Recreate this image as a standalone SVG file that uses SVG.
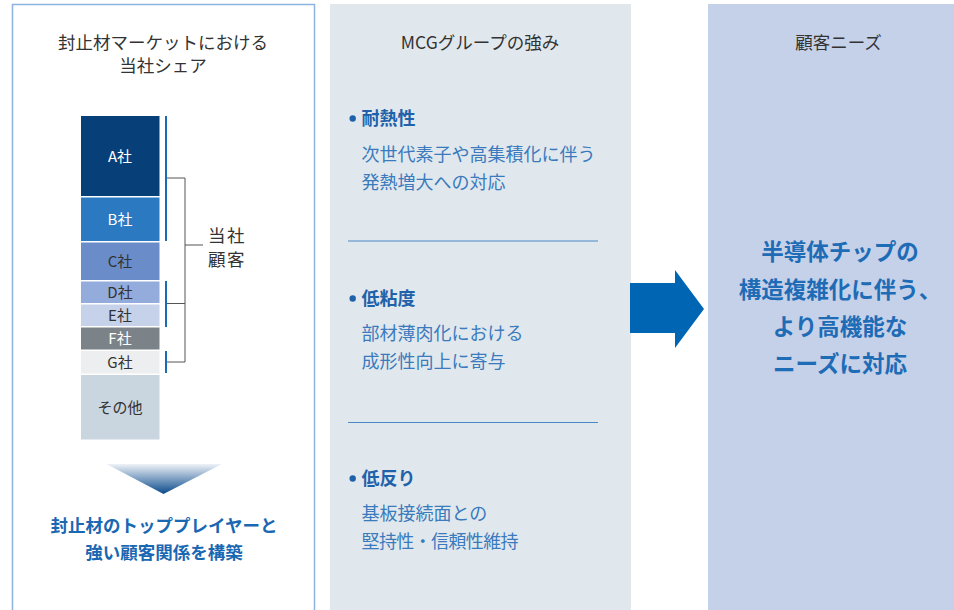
<svg xmlns="http://www.w3.org/2000/svg" width="954" height="610" viewBox="0 0 954 610">
<defs>
<linearGradient id="tri" x1="0" y1="0" x2="0" y2="1">
<stop offset="0" stop-color="#eef2f8"/>
<stop offset="1" stop-color="#0a4a8a"/>
</linearGradient>
<style>
text{font-family:"Noto Sans CJK JP","Noto Sans",sans-serif;}
.hd{font-size:17.5px;fill:#333;text-anchor:middle;}
.lbl{font-size:15px;text-anchor:middle;}
.w{fill:#fff;}
.d{fill:#333;}
.bh{font-size:18px;font-weight:bold;fill:#1f62aa;}
.bt{font-size:18px;fill:#3a7abd;}
.rt{font-size:22.5px;font-weight:bold;fill:#1e6bb6;text-anchor:middle;}
.bl{font-size:17.5px;font-weight:bold;fill:#1a68b2;text-anchor:middle;}
.mk{stroke:#1a6ab5;stroke-width:2;}
.br{stroke:#555;stroke-width:1;fill:none;}
.div{stroke:#4a88c6;stroke-width:1;}
</style>
</defs>

<g id="panel-share">
<rect x="12.5" y="4.5" width="302" height="620" fill="#fff" stroke="#8db4e0" stroke-width="1.5"/>
<text class="hd" x="163" y="48.5">封止材マーケットにおける</text>
<text class="hd" x="163" y="71.5">当社シェア</text>
</g>

<g id="bar-chart">
<rect x="81" y="116" width="78.5" height="80" fill="#073f78"/>
<rect x="81" y="197.5" width="78.5" height="43.5" fill="#2a79c1"/>
<rect x="81" y="242.5" width="78.5" height="37.5" fill="#6a8dc9"/>
<rect x="81" y="281.5" width="78.5" height="21.5" fill="#93acdc"/>
<rect x="81" y="304.5" width="78.5" height="21.5" fill="#c6d1ea"/>
<rect x="81" y="327.5" width="78.5" height="22" fill="#7b8389"/>
<rect x="81" y="351" width="78.5" height="22.5" fill="#eceef0"/>
<rect x="81" y="375" width="78.5" height="64.5" fill="#c9d5df"/>
<text class="lbl w" x="120" y="161.5">A社</text>
<text class="lbl w" x="120" y="224.5">B社</text>
<text class="lbl d" x="120" y="266.5">C社</text>
<text class="lbl d" x="120" y="297.5">D社</text>
<text class="lbl d" x="120" y="320.5">E社</text>
<text class="lbl w" x="120" y="344">F社</text>
<text class="lbl d" x="120" y="367.5">G社</text>
<text class="lbl d" x="120" y="412.5">その他</text>
</g>

<g id="customer-bracket">
<line class="mk" x1="166" y1="116" x2="166" y2="241"/>
<line class="mk" x1="166" y1="281" x2="166" y2="327"/>
<line class="mk" x1="166" y1="351" x2="166" y2="373"/>
<polyline class="br" points="167,178 185,178 185,362 167,362"/>
<line class="br" x1="167" y1="303.5" x2="185" y2="303.5"/>
<line class="br" x1="185" y1="245" x2="203" y2="245"/>
<text x="208" y="242" style="font-size:17.5px;fill:#333;letter-spacing:1.5px">当社</text>
<text x="208" y="266" style="font-size:17.5px;fill:#333;letter-spacing:1.5px">顧客</text>
</g>

<g id="conclusion">
<polygon points="106.5,464 222,464 163.5,494" fill="url(#tri)"/>
<text class="bl" x="164" y="531.5">封止材のトッププレイヤーと</text>
<text class="bl" x="164" y="558.5">強い顧客関係を構築</text>
</g>

<g id="panel-strengths">
<rect x="330" y="4" width="301" height="606" fill="#e1e8ed"/>
<text class="hd" x="480" y="48.5">MCGグループの強み</text>
<circle cx="352.7" cy="118.5" r="3.2" fill="#1f62aa"/>
<text class="bh" x="361.5" y="125">耐熱性</text>
<text class="bt" x="361.5" y="161">次世代素子や高集積化に伴う</text>
<text class="bt" x="361.5" y="189">発熱増大への対応</text>
<line class="div" x1="348" y1="241" x2="598" y2="241"/>
<circle cx="352.7" cy="298.5" r="3.2" fill="#1f62aa"/>
<text class="bh" x="361.5" y="305">低粘度</text>
<text class="bt" x="361.5" y="340">部材薄肉化における</text>
<text class="bt" x="361.5" y="368">成形性向上に寄与</text>
<line class="div" x1="348" y1="422.5" x2="598" y2="422.5"/>
<circle cx="352.7" cy="478.5" r="3.2" fill="#1f62aa"/>
<text class="bh" x="361.5" y="485">低反り</text>
<text class="bt" x="361.5" y="520">基板接続面との</text>
<text class="bt" x="361.5" y="547.5" textLength="157" lengthAdjust="spacing">堅持性・信頼性維持</text>
</g>

<g id="connectors">
<polygon points="630,283 675,283 675,270 704,309 675,348 675,333 630,333" fill="#0066b3"/>
</g>

<g id="panel-needs">
<rect x="708" y="4" width="246" height="606" fill="#c5d1e8"/>
<text class="hd" x="838.5" y="48.5">顧客ニーズ</text>
<text class="rt" x="840" y="260">半導体チップの</text>
<text class="rt" x="840" y="298">構造複雑化に伴う、</text>
<text class="rt" x="840" y="335">より高機能な</text>
<text class="rt" x="840" y="372">ニーズに対応</text>
</g>
</svg>
